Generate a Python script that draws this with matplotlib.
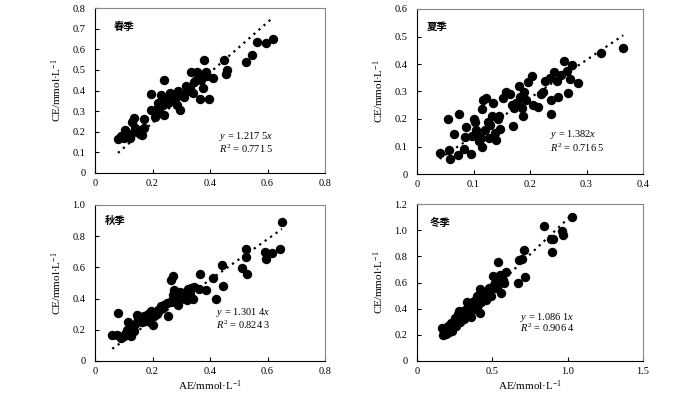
import numpy as np
import matplotlib
matplotlib.use('Agg')
import matplotlib.pyplot as plt

plt.rcParams['font.family'] = ['Liberation Serif', 'Noto Sans CJK SC']
plt.rcParams['mathtext.fontset'] = 'custom'
plt.rcParams['mathtext.rm'] = 'Liberation Serif'
plt.rcParams['mathtext.it'] = 'Liberation Serif:italic'

# spring
spring_x = [0.08, 0.09, 0.10, 0.105, 0.12, 0.125, 0.13, 0.135, 0.14, 0.15, 0.155, 0.16, 0.165, 0.17, 0.17,
            0.195, 0.195, 0.21, 0.215, 0.22, 0.225, 0.23, 0.235, 0.24, 0.24, 0.245, 0.25, 0.255, 0.26, 0.265,
            0.27, 0.275, 0.28, 0.285, 0.29, 0.295, 0.30, 0.31, 0.315, 0.32, 0.33, 0.335, 0.34, 0.345, 0.35,
            0.355, 0.36, 0.365, 0.37, 0.375, 0.38, 0.385, 0.39, 0.395, 0.41, 0.45, 0.455, 0.46, 0.525, 0.545,
            0.565, 0.595, 0.62]
spring_y = [0.165, 0.18, 0.17, 0.21, 0.17, 0.19, 0.245, 0.265, 0.22, 0.2, 0.19, 0.21, 0.185, 0.26, 0.22,
            0.385, 0.305, 0.27, 0.31, 0.34, 0.29, 0.38, 0.33, 0.45, 0.28, 0.35, 0.37, 0.34, 0.39, 0.36,
            0.38, 0.35, 0.37, 0.33, 0.40, 0.305, 0.38, 0.37, 0.42, 0.40, 0.41, 0.49, 0.39, 0.44, 0.45,
            0.49, 0.48, 0.36, 0.45, 0.41, 0.55, 0.49, 0.47, 0.36, 0.46, 0.55, 0.48, 0.50, 0.54, 0.57,
            0.635, 0.63, 0.65]

# summer
summer_x = [0.04, 0.055, 0.057, 0.058, 0.065, 0.072, 0.075, 0.083, 0.085, 0.087, 0.095, 0.097, 0.10, 0.102,
            0.105, 0.108, 0.11, 0.113, 0.115, 0.115, 0.117, 0.12, 0.123, 0.125, 0.127, 0.13, 0.132, 0.135,
            0.138, 0.14, 0.143, 0.145, 0.147, 0.153, 0.157, 0.165, 0.168, 0.17, 0.172, 0.175, 0.178, 0.18,
            0.183, 0.185, 0.187, 0.19, 0.193, 0.197, 0.203, 0.205, 0.215, 0.22, 0.223, 0.227, 0.235, 0.237,
            0.238, 0.243, 0.248, 0.25, 0.255, 0.26, 0.265, 0.268, 0.27, 0.275, 0.285, 0.325, 0.365]
summer_y = [0.078, 0.20, 0.087, 0.055, 0.145, 0.07, 0.22, 0.09, 0.135, 0.17, 0.072, 0.14, 0.20, 0.19,
            0.16, 0.14, 0.12, 0.13, 0.10, 0.235, 0.27, 0.16, 0.275, 0.19, 0.13, 0.18, 0.21, 0.26,
            0.15, 0.125, 0.20, 0.21, 0.165, 0.275, 0.30, 0.29, 0.25, 0.175, 0.24, 0.26, 0.25, 0.32,
            0.28, 0.24, 0.21, 0.30, 0.27, 0.335, 0.355, 0.25, 0.245, 0.29, 0.30, 0.34, 0.35, 0.22,
            0.27, 0.37, 0.34, 0.28, 0.36, 0.41, 0.375, 0.295, 0.345, 0.395, 0.33, 0.44, 0.46]

# autumn
autumn_x = [0.06, 0.075, 0.08, 0.09, 0.10, 0.105, 0.11, 0.115, 0.12, 0.125, 0.13, 0.135, 0.14, 0.145, 0.15,
            0.16, 0.165, 0.17, 0.175, 0.18, 0.185, 0.19, 0.195, 0.20, 0.205, 0.21, 0.215, 0.22, 0.23, 0.235,
            0.24, 0.25, 0.255, 0.26, 0.265, 0.27, 0.272, 0.275, 0.28, 0.285, 0.29, 0.295, 0.30, 0.31, 0.315,
            0.32, 0.325, 0.33, 0.335, 0.34, 0.345, 0.36, 0.365, 0.385, 0.41, 0.42, 0.44, 0.445, 0.51, 0.525,
            0.525, 0.53, 0.59, 0.595, 0.615, 0.645, 0.65]
autumn_y = [0.165, 0.165, 0.305, 0.15, 0.16, 0.175, 0.20, 0.25, 0.18, 0.16, 0.22, 0.19, 0.24, 0.295, 0.27,
            0.28, 0.25, 0.29, 0.26, 0.27, 0.30, 0.25, 0.32, 0.23, 0.29, 0.31, 0.30, 0.33, 0.35, 0.34,
            0.36, 0.37, 0.29, 0.38, 0.52, 0.545, 0.42, 0.455, 0.40, 0.38, 0.36, 0.44, 0.40, 0.42, 0.44,
            0.39, 0.46, 0.43, 0.47, 0.40, 0.475, 0.46, 0.555, 0.455, 0.53, 0.395, 0.615, 0.48, 0.595, 0.665,
            0.715, 0.56, 0.70, 0.655, 0.69, 0.72, 0.89]

# winter
winter_x = [0.165, 0.175, 0.18, 0.19, 0.20, 0.205, 0.21, 0.22, 0.225, 0.23, 0.24, 0.245, 0.25, 0.255, 0.26,
            0.27, 0.275, 0.28, 0.285, 0.29, 0.30, 0.31, 0.315, 0.32, 0.33, 0.335, 0.34, 0.35, 0.36, 0.37,
            0.38, 0.385, 0.39, 0.40, 0.405, 0.41, 0.415, 0.42, 0.425, 0.43, 0.44, 0.45, 0.46, 0.47, 0.48,
            0.49, 0.50, 0.505, 0.51, 0.52, 0.53, 0.535, 0.54, 0.55, 0.56, 0.57, 0.58, 0.59, 0.67, 0.68,
            0.70, 0.71, 0.72, 0.84, 0.89, 0.895, 0.90, 0.96, 0.97, 1.03]
winter_y = [0.25, 0.20, 0.22, 0.21, 0.24, 0.27, 0.22, 0.25, 0.29, 0.23, 0.26, 0.30, 0.28, 0.33, 0.27,
            0.36, 0.31, 0.38, 0.30, 0.34, 0.37, 0.32, 0.35, 0.39, 0.45, 0.38, 0.36, 0.40, 0.34, 0.42,
            0.46, 0.40, 0.44, 0.50, 0.43, 0.47, 0.37, 0.55, 0.45, 0.52, 0.48, 0.50, 0.47, 0.53, 0.56,
            0.50, 0.55, 0.65, 0.58, 0.60, 0.56, 0.76, 0.63, 0.66, 0.52, 0.62, 0.60, 0.68, 0.60, 0.77,
            0.78, 0.85, 0.64, 1.03, 0.93, 0.83, 0.93, 0.99, 0.96, 1.10]

seasons = ['春季', '夏季', '秋季', '冬季']
slopes = [1.2175, 1.382, 1.3014, 1.0861]
slope_text = ['1.217 5', '1.382', '1.301 4', '1.086 1']
r2_text = ['0.771 5', '0.716 5', '0.824 3', '0.906 4']
xlims = [0.8, 0.4, 0.8, 1.5]
ylims = [0.8, 0.6, 1.0, 1.2]
xticks = [np.arange(0, 0.81, 0.2), np.arange(0, 0.41, 0.1), np.arange(0, 0.81, 0.2), np.arange(0, 1.51, 0.5)]
yticks = [np.arange(0, 0.81, 0.1), np.arange(0, 0.61, 0.1), np.arange(0, 1.01, 0.2), np.arange(0, 1.21, 0.2)]
xfmt = [['0', '0.2', '0.4', '0.6', '0.8'], ['0', '0.1', '0.2', '0.3', '0.4'],
        ['0', '0.2', '0.4', '0.6', '0.8'], ['0', '0.5', '1.0', '1.5']]
yfmt = [['0', '0.1', '0.2', '0.3', '0.4', '0.5', '0.6', '0.7', '0.8'],
        ['0', '0.1', '0.2', '0.3', '0.4', '0.5', '0.6'],
        ['0', '0.2', '0.4', '0.6', '0.8', '1.0'],
        ['0', '0.2', '0.4', '0.6', '0.8', '1.0', '1.2']]
xs = [spring_x, summer_x, autumn_x, winter_x]
ys = [spring_y, summer_y, autumn_y, winter_y]

# axes boxes in pixels (left, top, right, bottom)
W, H = 700.0, 395.0
boxes = [(95, 8, 325, 173), (417, 9, 643, 174), (95, 205, 325, 361), (417, 204, 643, 361)]
season_pos = [(0.08, 0.885), (0.045, 0.89), (0.045, 0.9), (0.055, 0.88)]
eq_pos = [(0.54, 0.22, 0.145), (0.59, 0.24, 0.16), (0.526, 0.31, 0.23), (0.456, 0.28, 0.21)]

fig = plt.figure(figsize=(7, 3.95), dpi=100)
for i in range(4):
    x0, y0, x1, y1 = boxes[i]
    ax = fig.add_axes([x0 / W, 1 - y1 / H, (x1 - x0) / W, (y1 - y0) / H])
    ax.scatter(xs[i], ys[i], s=46, color='black', zorder=3, linewidths=0)
    lx = np.array([min(xs[i]), max(xs[i])])
    ax.plot(lx, slopes[i] * lx, color='black', linestyle=(0, (1, 2)), linewidth=1.6, zorder=4)
    ax.set_xlim(0, xlims[i])
    ax.set_ylim(0, ylims[i])
    ax.set_xticks(xticks[i])
    ax.set_xticklabels(xfmt[i])
    ax.set_yticks(yticks[i])
    ax.set_yticklabels(yfmt[i])
    ax.tick_params(direction='in', length=3, width=0.8, labelsize=7.5, pad=4)
    ax.tick_params(axis='y', pad=7)
    for s in ['top', 'right']:
        ax.spines[s].set_color('#888888')
        ax.spines[s].set_linewidth(0.8)
    for s in ['left', 'bottom']:
        ax.spines[s].set_linewidth(0.8)
    ax.set_ylabel('CE/mmol·L$^{-1}$', fontsize=8, labelpad=6)
    if i >= 2:
        ax.set_xlabel('AE/mmol·L$^{-1}$', fontsize=8, labelpad=2)
    ax.text(season_pos[i][0], season_pos[i][1], seasons[i], transform=ax.transAxes,
            fontsize=7.5, fontweight='bold', family=['Noto Sans CJK SC'], va='center', ha='left')
    ex, ey1, ey2 = eq_pos[i]
    ax.text(ex, ey1, '$y$ = ' + slope_text[i] + '$x$', transform=ax.transAxes,
            fontsize=7.5, va='center', ha='left')
    ax.text(ex, ey2, '$R^2$ = ' + r2_text[i], transform=ax.transAxes,
            fontsize=7.5, va='center', ha='left')

fig.savefig('out.png', dpi=100)
